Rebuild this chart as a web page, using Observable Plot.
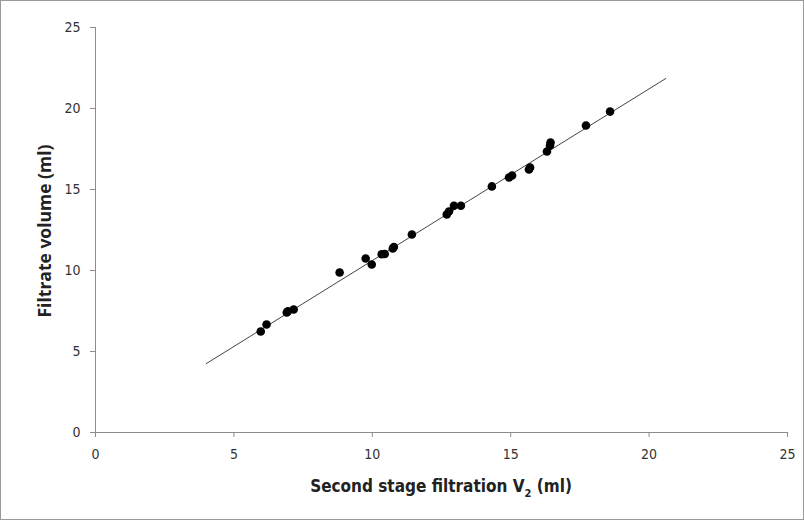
<!DOCTYPE html>
<html>
<head>
<meta charset="utf-8">
<script src="https://cdn.jsdelivr.net/npm/d3@7"></script>
<script src="https://cdn.jsdelivr.net/npm/@observablehq/plot@0.6"></script>
<style>
  html, body { margin: 0; padding: 0; background: #fff; }
  #frame { width: 802px; height: 518px; border: 1px solid #9a9a9a; position: relative; overflow: hidden; }
</style>
</head>
<body>
<div id="frame"></div>
<script>
// Data
const v2 = [5.97, 6.18, 6.91, 6.95, 7.16, 8.82, 9.76, 9.98, 10.34, 10.45, 10.74, 10.78, 11.43, 12.69, 12.77, 12.95, 13.2, 14.32, 14.94, 15.05, 15.66, 15.7, 16.31, 16.42, 16.44, 17.72, 18.59];
const filtrate = [6.23, 6.67, 7.41, 7.48, 7.59, 9.88, 10.74, 10.37, 11.0, 11.02, 11.36, 11.45, 12.22, 13.46, 13.64, 14.0, 14.0, 15.19, 15.74, 15.86, 16.23, 16.36, 17.35, 17.72, 17.9, 18.95, 19.81];
const fitX = [4.0, 20.6];
const fitY = [4.25, 21.85];
const xTicks = [0, 5, 10, 15, 20, 25];
const yTicks = [0, 5, 10, 15, 20, 25];
const xLabel = "Second stage filtration V";
const xLabelSub = "2";
const xLabelEnd = " (ml)";
const yLabel = "Filtrate volume (ml)";

const points = v2.map((x, i) => ({x, y: filtrate[i]}));
const fit = fitX.map((x, i) => ({x, y: fitY[i]}));

const axisColor = "#8c8c8c";
const tickFont = "'Liberation Sans Narrow', 'DejaVu Sans Condensed', 'Liberation Sans', sans-serif";

const chart = Plot.plot({
  width: 802,
  height: 518,
  marginLeft: 94,
  marginRight: 16,
  marginTop: 26,
  marginBottom: 87,
  style: {background: "#fff", fontFamily: tickFont, fontSize: "14px", color: "#333"},
  x: {domain: [0, 25], ticks: xTicks},
  y: {domain: [0, 25], ticks: yTicks},
  marks: [
    Plot.ruleY([0], {stroke: axisColor, strokeWidth: 1}),
    Plot.ruleX([0], {stroke: axisColor, strokeWidth: 1}),
    Plot.axisX({ticks: xTicks, tickSize: 5, tickPadding: 12, stroke: axisColor, label: null, fill: "#333"}),
    Plot.axisY({ticks: yTicks, tickSize: 5, tickPadding: 10, stroke: axisColor, label: null, fill: "#333"}),
    Plot.line(fit, {x: "x", y: "y", stroke: "#444", strokeWidth: 1}),
    Plot.dot(points, {x: "x", y: "y", r: 4.3, fill: "#000", stroke: "none"})
  ]
});

document.getElementById("frame").appendChild(chart);

const svg = d3.select(chart);
const xl = svg.append("text")
  .attr("x", 440)
  .attr("y", 491)
  .attr("text-anchor", "middle")
  .attr("font-family", tickFont)
  .attr("font-weight", "bold")
  .attr("font-size", 17)
  .attr("fill", "#222");
xl.append("tspan").text(xLabel);
xl.append("tspan").attr("font-size", 11).attr("dy", 5).text(xLabelSub);
xl.append("tspan").attr("dy", -5).text(xLabelEnd);

svg.append("text")
  .attr("transform", "translate(50,230) rotate(-90)")
  .attr("text-anchor", "middle")
  .attr("font-family", "'Open Sans', 'DejaVu Sans', sans-serif")
  .attr("font-weight", "bold")
  .attr("font-size", 17.5)
  .attr("fill", "#222")
  .text(yLabel);
</script>
</body>
</html>
